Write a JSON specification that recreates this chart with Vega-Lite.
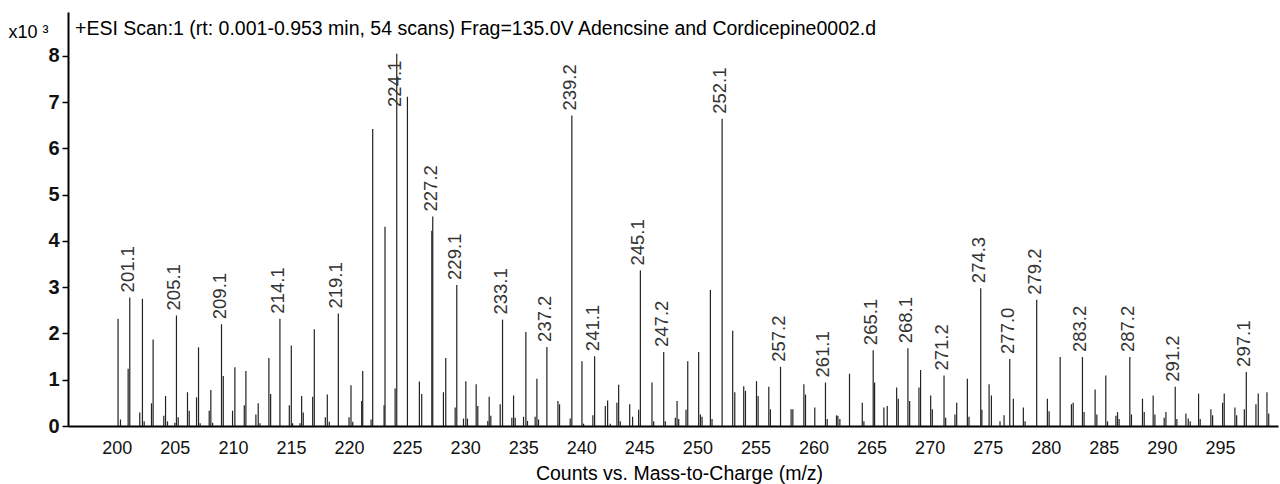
{
  "$schema": "https://vega.github.io/schema/vega-lite/v6.json",
  "width": 1210,
  "height": 414,
  "autosize": {"type": "none"},
  "padding": {"left": 68, "top": 12, "right": 2, "bottom": 58},
  "background": "white",
  "config": {"view": {"stroke": null}, "font": "Liberation Sans"},
  "title": {
    "text": "+ESI Scan:1 (rt: 0.001-0.953 min, 54 scans) Frag=135.0V Adencsine and Cordicepine0002.d",
    "anchor": "start", "frame": "group", "orient": "top", "offset": -42, "dx": 7,
    "baseline": "alphabetic", "fontSize": 19.5, "fontWeight": "normal", "color": "#000", "font": "Liberation Sans"
  },
  "data": {"values": [
    {"mz":200.11,"counts":2.32,"label":""},{"mz":200.32,"counts":0.14,"label":""},{"mz":200.98,"counts":1.24,"label":""},
    {"mz":201.12,"counts":2.78,"label":"201.1"},{"mz":201.98,"counts":0.29,"label":""},{"mz":202.21,"counts":2.75,"label":""},
    {"mz":202.36,"counts":0.1,"label":""},{"mz":202.99,"counts":0.49,"label":""},{"mz":203.13,"counts":1.87,"label":""},
    {"mz":204.05,"counts":0.22,"label":""},{"mz":204.2,"counts":0.65,"label":""},{"mz":204.37,"counts":0.1,"label":""},
    {"mz":205.0,"counts":0.07,"label":""},{"mz":205.14,"counts":2.39,"label":"205.1"},{"mz":205.29,"counts":0.19,"label":""},
    {"mz":206.09,"counts":0.73,"label":""},{"mz":206.24,"counts":0.33,"label":""},{"mz":206.87,"counts":0.62,"label":""},
    {"mz":207.04,"counts":1.7,"label":""},{"mz":207.18,"counts":0.06,"label":""},{"mz":207.96,"counts":0.33,"label":""},
    {"mz":208.1,"counts":0.78,"label":""},{"mz":208.25,"counts":0.07,"label":""},{"mz":209.02,"counts":2.2,"label":"209.1"},
    {"mz":209.17,"counts":1.08,"label":""},{"mz":209.97,"counts":0.33,"label":""},{"mz":210.17,"counts":1.27,"label":""},
    {"mz":210.98,"counts":0.45,"label":""},{"mz":211.12,"counts":1.19,"label":""},{"mz":211.98,"counts":0.25,"label":""},
    {"mz":212.18,"counts":0.49,"label":""},{"mz":212.33,"counts":0.06,"label":""},{"mz":213.1,"counts":1.47,"label":""},
    {"mz":213.25,"counts":0.69,"label":""},{"mz":214.05,"counts":2.32,"label":"214.1"},{"mz":214.86,"counts":0.45,"label":""},
    {"mz":215.03,"counts":1.74,"label":""},{"mz":215.14,"counts":0.06,"label":""},{"mz":215.78,"counts":0.06,"label":""},
    {"mz":215.92,"counts":0.65,"label":""},{"mz":216.06,"counts":0.29,"label":""},{"mz":216.87,"counts":0.63,"label":""},
    {"mz":217.01,"counts":2.09,"label":""},{"mz":217.96,"counts":0.19,"label":""},{"mz":218.13,"counts":0.68,"label":""},
    {"mz":218.3,"counts":0.09,"label":""},{"mz":219.08,"counts":2.43,"label":"219.1"},{"mz":220.0,"counts":0.19,"label":""},
    {"mz":220.17,"counts":0.88,"label":""},{"mz":220.32,"counts":0.09,"label":""},{"mz":221.09,"counts":0.54,"label":""},
    {"mz":221.18,"counts":1.19,"label":""},{"mz":221.9,"counts":0.14,"label":""},{"mz":222.04,"counts":6.42,"label":""},
    {"mz":223.02,"counts":0.45,"label":""},{"mz":223.1,"counts":4.31,"label":""},{"mz":223.97,"counts":0.81,"label":""},
    {"mz":224.11,"counts":8.05,"label":"224.1"},{"mz":225.03,"counts":7.12,"label":""},{"mz":226.06,"counts":0.96,"label":""},
    {"mz":226.26,"counts":0.69,"label":""},{"mz":227.13,"counts":4.22,"label":""},{"mz":227.21,"counts":4.53,"label":"227.2"},
    {"mz":228.13,"counts":0.73,"label":""},{"mz":228.33,"counts":1.47,"label":""},{"mz":229.14,"counts":0.4,"label":""},
    {"mz":229.28,"counts":3.05,"label":"229.1"},{"mz":229.86,"counts":0.16,"label":""},{"mz":230.06,"counts":0.97,"label":""},
    {"mz":230.2,"counts":0.16,"label":""},{"mz":230.95,"counts":0.9,"label":""},{"mz":231.09,"counts":0.43,"label":""},
    {"mz":231.95,"counts":0.11,"label":""},{"mz":232.07,"counts":0.63,"label":""},{"mz":232.21,"counts":0.22,"label":""},
    {"mz":233.02,"counts":0.47,"label":""},{"mz":233.22,"counts":2.3,"label":"233.1"},{"mz":234.02,"counts":0.18,"label":""},
    {"mz":234.17,"counts":0.66,"label":""},{"mz":234.31,"counts":0.18,"label":""},{"mz":235.03,"counts":0.2,"label":""},
    {"mz":235.23,"counts":2.03,"label":""},{"mz":235.37,"counts":0.11,"label":""},{"mz":236.03,"counts":0.2,"label":""},
    {"mz":236.18,"counts":1.02,"label":""},{"mz":236.32,"counts":0.14,"label":""},{"mz":237.04,"counts":1.71,"label":"237.2"},
    {"mz":237.99,"counts":0.54,"label":""},{"mz":238.13,"counts":0.47,"label":""},{"mz":239.05,"counts":0.16,"label":""},
    {"mz":239.19,"counts":6.71,"label":"239.2"},{"mz":240.06,"counts":1.4,"label":""},{"mz":240.2,"counts":0.05,"label":""},
    {"mz":241.0,"counts":0.23,"label":""},{"mz":241.15,"counts":1.51,"label":"241.1"},{"mz":242.07,"counts":0.43,"label":""},
    {"mz":242.27,"counts":0.55,"label":""},{"mz":242.5,"counts":0.05,"label":""},{"mz":243.07,"counts":0.5,"label":""},
    {"mz":243.22,"counts":0.89,"label":""},{"mz":243.36,"counts":0.1,"label":""},{"mz":244.17,"counts":0.47,"label":""},
    {"mz":244.42,"counts":0.2,"label":""},{"mz":244.94,"counts":0.35,"label":""},{"mz":245.09,"counts":3.36,"label":"245.1"},
    {"mz":246.09,"counts":0.94,"label":""},{"mz":246.24,"counts":0.1,"label":""},{"mz":247.1,"counts":1.6,"label":"247.2"},
    {"mz":247.24,"counts":0.1,"label":""},{"mz":248.1,"counts":0.18,"label":""},{"mz":248.25,"counts":0.54,"label":""},
    {"mz":248.39,"counts":0.15,"label":""},{"mz":249.02,"counts":0.35,"label":""},{"mz":249.17,"counts":1.4,"label":""},
    {"mz":250.11,"counts":1.6,"label":""},{"mz":250.26,"counts":0.25,"label":""},{"mz":250.4,"counts":0.2,"label":""},
    {"mz":251.12,"counts":2.94,"label":""},{"mz":251.26,"counts":0.15,"label":""},{"mz":252.13,"counts":6.64,"label":"252.1"},
    {"mz":253.04,"counts":2.06,"label":""},{"mz":253.22,"counts":0.73,"label":""},{"mz":253.99,"counts":0.86,"label":""},
    {"mz":254.14,"counts":0.76,"label":""},{"mz":255.09,"counts":0.97,"label":""},{"mz":255.23,"counts":0.65,"label":""},
    {"mz":256.15,"counts":0.85,"label":""},{"mz":256.29,"counts":0.36,"label":""},{"mz":257.16,"counts":1.28,"label":"257.2"},
    {"mz":258.07,"counts":0.36,"label":""},{"mz":258.22,"counts":0.36,"label":""},{"mz":259.17,"counts":0.9,"label":""},
    {"mz":259.31,"counts":0.68,"label":""},{"mz":260.11,"counts":0.4,"label":""},{"mz":261.03,"counts":0.94,"label":"261.1"},
    {"mz":261.18,"counts":0.15,"label":""},{"mz":261.98,"counts":0.23,"label":""},{"mz":262.1,"counts":0.22,"label":""},
    {"mz":262.27,"counts":0.15,"label":""},{"mz":263.1,"counts":1.13,"label":""},{"mz":264.2,"counts":0.5,"label":""},
    {"mz":264.34,"counts":0.1,"label":""},{"mz":265.14,"counts":1.64,"label":"265.1"},{"mz":265.26,"counts":0.94,"label":""},
    {"mz":266.06,"counts":0.4,"label":""},{"mz":266.35,"counts":0.43,"label":""},{"mz":267.16,"counts":0.83,"label":""},
    {"mz":267.3,"counts":0.59,"label":""},{"mz":268.13,"counts":1.68,"label":"268.1"},{"mz":268.28,"counts":0.54,"label":""},
    {"mz":269.08,"counts":0.83,"label":""},{"mz":269.22,"counts":1.21,"label":""},{"mz":270.09,"counts":0.66,"label":""},
    {"mz":270.23,"counts":0.36,"label":""},{"mz":271.24,"counts":1.09,"label":"271.2"},{"mz":271.38,"counts":0.18,"label":""},
    {"mz":272.18,"counts":0.25,"label":""},{"mz":272.33,"counts":0.5,"label":""},{"mz":273.25,"counts":1.02,"label":""},
    {"mz":273.39,"counts":0.2,"label":""},{"mz":274.4,"counts":2.98,"label":"274.3"},{"mz":274.5,"counts":0.35,"label":""},
    {"mz":275.12,"counts":0.9,"label":""},{"mz":275.32,"counts":0.66,"label":""},{"mz":276.06,"counts":0.1,"label":""},
    {"mz":276.41,"counts":0.23,"label":""},{"mz":276.9,"counts":1.45,"label":"277.0"},{"mz":277.21,"counts":0.59,"label":""},
    {"mz":278.07,"counts":0.4,"label":""},{"mz":278.22,"counts":0.1,"label":""},{"mz":279.22,"counts":2.73,"label":"279.2"},
    {"mz":280.14,"counts":0.59,"label":""},{"mz":280.29,"counts":0.32,"label":""},{"mz":281.24,"counts":1.49,"label":""},
    {"mz":282.21,"counts":0.47,"label":""},{"mz":282.36,"counts":0.5,"label":""},{"mz":283.16,"counts":1.49,"label":"283.2"},
    {"mz":283.3,"counts":0.3,"label":""},{"mz":284.25,"counts":0.79,"label":""},{"mz":284.4,"counts":0.25,"label":""},
    {"mz":285.17,"counts":1.09,"label":""},{"mz":285.32,"counts":0.1,"label":""},{"mz":286.04,"counts":0.22,"label":""},
    {"mz":286.18,"counts":0.3,"label":""},{"mz":286.32,"counts":0.15,"label":""},{"mz":287.24,"counts":1.49,"label":"287.2"},
    {"mz":287.38,"counts":0.25,"label":""},{"mz":288.33,"counts":0.59,"label":""},{"mz":288.48,"counts":0.3,"label":""},
    {"mz":289.25,"counts":0.66,"label":""},{"mz":289.4,"counts":0.25,"label":""},{"mz":290.2,"counts":0.18,"label":""},
    {"mz":290.35,"counts":0.3,"label":""},{"mz":291.15,"counts":0.85,"label":"291.2"},{"mz":291.29,"counts":0.15,"label":""},
    {"mz":292.07,"counts":0.27,"label":""},{"mz":292.27,"counts":0.16,"label":""},{"mz":292.44,"counts":0.1,"label":""},
    {"mz":293.16,"counts":0.7,"label":""},{"mz":293.3,"counts":0.15,"label":""},{"mz":294.22,"counts":0.36,"label":""},
    {"mz":294.37,"counts":0.23,"label":""},{"mz":295.23,"counts":0.5,"label":""},{"mz":295.37,"counts":0.7,"label":""},
    {"mz":296.29,"counts":0.4,"label":""},{"mz":296.44,"counts":0.23,"label":""},{"mz":297.1,"counts":0.36,"label":""},
    {"mz":297.27,"counts":1.17,"label":"297.1"},{"mz":298.1,"counts":0.47,"label":""},{"mz":298.3,"counts":0.7,"label":""},
    {"mz":299.05,"counts":0.73,"label":""},{"mz":299.2,"counts":0.27,"label":""}
  ]},
  "encoding": {
    "x": {
      "field": "mz", "type": "quantitative",
      "scale": {"domain": [195.8, 300], "nice": false, "zero": false},
      "axis": {
        "values": [200,205,210,215,220,225,230,235,240,245,250,255,260,265,270,275,280,285,290,295],
        "grid": false, "ticks": false, "domainColor": "#000", "domainWidth": 2,
        "labelFontSize": 18, "labelColor": "#111", "labelPadding": 13, "labelFont": "Liberation Sans",
        "title": "Counts vs. Mass-to-Charge (m/z)", "titleFontSize": 19.5, "titleFontWeight": "normal",
        "titleColor": "#000", "titlePadding": 7, "titleX": 611, "titleFont": "Liberation Sans"
      }
    },
    "y": {
      "field": "counts", "type": "quantitative",
      "scale": {"domain": [0, 8.95], "nice": false},
      "axis": {
        "values": [0,1,2,3,4,5,6,7,8], "grid": false, "domainColor": "#000", "domainWidth": 2,
        "tickColor": "#000", "tickSize": 6, "tickWidth": 1.5,
        "labelFontSize": 20, "labelFontWeight": "bold", "labelColor": "#111", "labelPadding": 3,
        "labelFont": "Liberation Sans",
        "title": "x10 ³", "titleAngle": 0, "titleX": -60, "titleY": 25, "titleAlign": "left",
        "titleBaseline": "alphabetic", "titleFontSize": 18, "titleFontWeight": "normal", "titleColor": "#000",
        "titleFont": "Liberation Sans"
      }
    }
  },
  "layer": [
    {
      "mark": {"type": "rule", "color": "#222", "strokeWidth": 1.2},
      "encoding": {"y2": {"datum": 0}}
    },
    {
      "transform": [{"filter": "datum.label != '' && datum.label != '224.1'"}],
      "mark": {"type": "text", "angle": 270, "align": "left", "baseline": "middle", "dx": 5, "dy": -2,
               "fontSize": 18.5, "color": "#333", "font": "Liberation Sans"},
      "encoding": {"text": {"field": "label"}}
    },
    {
      "transform": [{"filter": "datum.label == '224.1'"}],
      "mark": {"type": "text", "angle": 270, "align": "right", "baseline": "middle", "dx": -7, "dy": -2,
               "fontSize": 18.5, "color": "#333", "font": "Liberation Sans"},
      "encoding": {"text": {"field": "label"}}
    }
  ]
}
